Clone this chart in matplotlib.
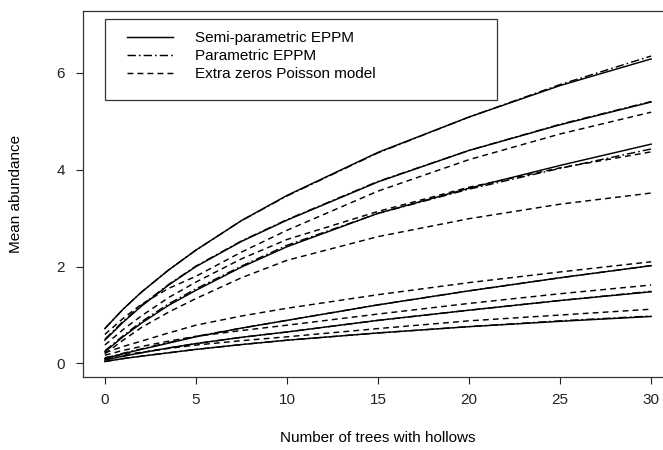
import matplotlib
matplotlib.use('Agg')
import matplotlib.pyplot as plt
from matplotlib.patches import Rectangle

plt.rcParams['font.family'] = ['Liberation Sans', 'DejaVu Sans']
plt.rcParams['lines.scale_dashes'] = False

# number of trees with hollows at which the curves were read
trees = [0, 1, 2, 3.5, 5, 7.5, 10, 15, 20, 25, 30]

# semi-parametric EPPM (solid)
semi_a = [0.72, 1.12, 1.47, 1.93, 2.34, 2.95, 3.47, 4.36, 5.09, 5.74, 6.29]
semi_b = [0.48, 0.85, 1.18, 1.62, 2.00, 2.52, 2.96, 3.75, 4.40, 4.93, 5.40]
semi_c = [0.24, 0.55, 0.83, 1.20, 1.51, 1.99, 2.41, 3.10, 3.62, 4.09, 4.53]
semi_d = [0.10, 0.20, 0.29, 0.42, 0.55, 0.73, 0.89, 1.21, 1.50, 1.77, 2.02]
semi_e = [0.07, 0.15, 0.22, 0.32, 0.41, 0.54, 0.65, 0.89, 1.10, 1.30, 1.48]
semi_f = [0.04, 0.10, 0.15, 0.22, 0.29, 0.39, 0.48, 0.63, 0.76, 0.87, 0.97]

# parametric EPPM (dash-dot)
param_a = [0.72, 1.12, 1.47, 1.93, 2.34, 2.95, 3.46, 4.35, 5.09, 5.76, 6.35]
param_b = [0.50, 0.87, 1.20, 1.63, 2.01, 2.53, 2.97, 3.76, 4.40, 4.94, 5.41]
param_c = [0.26, 0.57, 0.86, 1.23, 1.54, 2.01, 2.44, 3.10, 3.60, 4.03, 4.43]
param_d = [0.11, 0.21, 0.30, 0.43, 0.56, 0.73, 0.89, 1.21, 1.50, 1.77, 2.02]
param_e = [0.08, 0.15, 0.22, 0.32, 0.41, 0.54, 0.65, 0.89, 1.10, 1.30, 1.49]
param_f = [0.04, 0.10, 0.15, 0.22, 0.29, 0.39, 0.48, 0.63, 0.76, 0.88, 0.98]

# extra zeros Poisson model (dashed)
zip_a = [0.60, 0.93, 1.22, 1.55, 1.80, 2.30, 2.75, 3.56, 4.21, 4.74, 5.19]
zip_b = [0.38, 0.70, 0.98, 1.36, 1.68, 2.16, 2.56, 3.14, 3.64, 4.04, 4.37]
zip_c = [0.20, 0.48, 0.74, 1.06, 1.34, 1.77, 2.13, 2.62, 2.99, 3.29, 3.52]
zip_d = [0.22, 0.35, 0.46, 0.63, 0.79, 0.98, 1.14, 1.42, 1.67, 1.89, 2.10]
zip_e = [0.17, 0.27, 0.35, 0.46, 0.56, 0.68, 0.79, 1.02, 1.24, 1.44, 1.62]
zip_f = [0.12, 0.18, 0.23, 0.31, 0.38, 0.47, 0.55, 0.72, 0.88, 1.00, 1.12]

semi_all = [semi_a, semi_b, semi_c, semi_d, semi_e, semi_f]
param_all = [param_a, param_b, param_c, param_d, param_e, param_f]
zip_all = [zip_a, zip_b, zip_c, zip_d, zip_e, zip_f]

solid = '-'
dotdash = (0, (6, 2.2, 1.2, 2.2))
dashed = (0, (4.2, 3))
fs = 11

fig = plt.figure(figsize=(6.63, 4.5), dpi=100)
ax = fig.add_axes([83/663, 73/450, 590/663, 366/450])

for i in range(6):
    ax.plot(trees, semi_all[i], color='black', lw=1.05, ls=solid,
            label='Semi-parametric EPPM' if i == 0 else None)
    ax.plot(trees, param_all[i], color='black', lw=1.05, ls=dotdash,
            label='Parametric EPPM' if i == 0 else None)
    ax.plot(trees, zip_all[i], color='black', lw=1.05, ls=dashed,
            label='Extra zeros Poisson model' if i == 0 else None)

ax.set_xlim(-1.2, 31.2)
ax.set_ylim(-0.28, 7.28)
ax.set_xticks([0, 5, 10, 15, 20, 25, 30])
ax.set_yticks([0, 2, 4, 6])
ax.tick_params(direction='out', length=5, width=0.8, labelsize=fs, colors='#222222')
ax.tick_params(axis='x', pad=6.5)
ax.tick_params(axis='y', pad=8)
for sp in ax.spines.values():
    sp.set_linewidth(0.9)
    sp.set_color('#333333')

ax.set_xlabel('Number of trees with hollows', fontsize=fs, labelpad=17)
ax.set_ylabel('Mean abundance', fontsize=fs, labelpad=24)

# legend box drawn separately so the text sits where R put it
ax.add_patch(Rectangle((0.0373, 0.757), 0.6644, 0.221, transform=ax.transAxes,
                       fill=True, facecolor='white', edgecolor='#333333',
                       lw=0.9, zorder=4))
leg = ax.legend(loc='upper left', bbox_to_anchor=(0.0746, 0.944),
                fontsize=fs, frameon=False, borderpad=0, borderaxespad=0,
                labelspacing=0.26, handlelength=3.0, handletextpad=1.45)
leg.set_zorder(5)

plt.savefig('out.png', dpi=100)
